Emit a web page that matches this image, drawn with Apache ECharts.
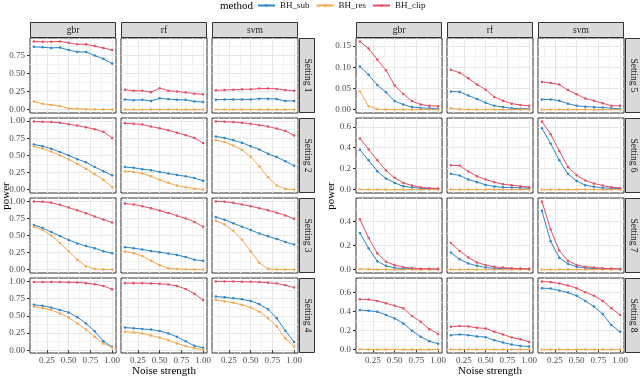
<!DOCTYPE html>
<html>
<head>
<meta charset="utf-8">
<script src="https://cdn.jsdelivr.net/npm/echarts@6/dist/echarts.min.js"></script>
<style>
html, body { margin: 0; padding: 0; background: #fff; }
#chart { width: 640px; height: 379px; }
</style>
</head>
<body>
<div id="chart"></div>
<script>
const noise = [0.1, 0.2, 0.3, 0.4, 0.5, 0.6, 0.7, 0.8, 0.9, 1.0];
const models = ['gbr', 'rf', 'svm'];
const methods = ['BH_sub', 'BH_res', 'BH_clip'];
const settings = ['Setting 1', 'Setting 2', 'Setting 3', 'Setting 4', 'Setting 5', 'Setting 6', 'Setting 7', 'Setting 8'];
const methodColors = ['#2a86cc', '#f6a64b', '#ea4c62'];

// each array: [gbr, rf, svm]
const set1Sub = [
  [0.865, 0.86, 0.85, 0.855, 0.82, 0.795, 0.795, 0.745, 0.70, 0.635],
  [0.14, 0.13, 0.135, 0.12, 0.155, 0.145, 0.135, 0.135, 0.11, 0.105],
  [0.135, 0.14, 0.14, 0.14, 0.14, 0.15, 0.15, 0.145, 0.12, 0.12]
];
const set1Res = [
  [0.11, 0.08, 0.065, 0.05, 0.015, 0.012, 0.005, 0.003, 0.002, 0.002],
  [0, 0, 0, 0, 0, 0, 0, 0, 0, 0],
  [0, 0, 0, 0, 0, 0, 0, 0, 0, 0]
];
const set1Clip = [
  [0.94, 0.935, 0.935, 0.94, 0.92, 0.90, 0.90, 0.875, 0.85, 0.82],
  [0.275, 0.26, 0.26, 0.24, 0.295, 0.26, 0.25, 0.235, 0.22, 0.21],
  [0.265, 0.27, 0.275, 0.28, 0.28, 0.29, 0.29, 0.285, 0.27, 0.26]
];
const set2Sub = [
  [0.66, 0.635, 0.595, 0.55, 0.50, 0.445, 0.40, 0.33, 0.27, 0.21],
  [0.33, 0.32, 0.30, 0.285, 0.26, 0.235, 0.215, 0.195, 0.17, 0.13],
  [0.775, 0.755, 0.72, 0.685, 0.635, 0.585, 0.525, 0.475, 0.415, 0.35]
];
const set2Res = [
  [0.635, 0.60, 0.555, 0.50, 0.44, 0.375, 0.305, 0.225, 0.145, 0.04],
  [0.27, 0.26, 0.235, 0.195, 0.145, 0.10, 0.06, 0.035, 0.015, 0.003],
  [0.72, 0.695, 0.645, 0.58, 0.48, 0.34, 0.18, 0.06, 0.012, 0.002]
];
const set2Clip = [
  [0.995, 0.99, 0.985, 0.975, 0.955, 0.935, 0.91, 0.88, 0.845, 0.755],
  [0.97, 0.96, 0.95, 0.92, 0.895, 0.865, 0.83, 0.795, 0.755, 0.68],
  [0.995, 0.99, 0.985, 0.975, 0.96, 0.94, 0.92, 0.89, 0.855, 0.79]
];
const set3Sub = [
  [0.655, 0.61, 0.55, 0.495, 0.435, 0.385, 0.345, 0.315, 0.27, 0.24],
  [0.33, 0.315, 0.295, 0.275, 0.255, 0.235, 0.215, 0.185, 0.145, 0.13],
  [0.77, 0.73, 0.68, 0.63, 0.58, 0.53, 0.49, 0.45, 0.405, 0.37]
];
const set3Res = [
  [0.63, 0.58, 0.50, 0.39, 0.27, 0.145, 0.05, 0.01, 0.002, 0.001],
  [0.265, 0.24, 0.20, 0.13, 0.065, 0.02, 0.01, 0.005, 0.002, 0.001],
  [0.715, 0.66, 0.57, 0.44, 0.27, 0.10, 0.012, 0.003, 0.001, 0.001]
];
const set3Clip = [
  [1.0, 0.995, 0.98, 0.95, 0.91, 0.87, 0.825, 0.78, 0.735, 0.69],
  [0.97, 0.955, 0.93, 0.90, 0.865, 0.83, 0.79, 0.75, 0.70, 0.63],
  [1.0, 0.995, 0.98, 0.955, 0.93, 0.90, 0.87, 0.835, 0.795, 0.745]
];
const set4Sub = [
  [0.66, 0.645, 0.62, 0.585, 0.55, 0.48, 0.39, 0.275, 0.13, 0.05],
  [0.33, 0.32, 0.31, 0.30, 0.28, 0.245, 0.195, 0.13, 0.065, 0.035],
  [0.78, 0.77, 0.755, 0.74, 0.715, 0.67, 0.595, 0.465, 0.285, 0.12]
];
const set4Res = [
  [0.635, 0.61, 0.585, 0.535, 0.475, 0.39, 0.30, 0.195, 0.10, 0.04],
  [0.27, 0.26, 0.245, 0.215, 0.185, 0.145, 0.10, 0.06, 0.03, 0.01],
  [0.73, 0.71, 0.69, 0.66, 0.62, 0.56, 0.465, 0.35, 0.17, 0.05]
];
const set4Clip = [
  [0.99, 0.99, 0.99, 0.99, 0.988, 0.985, 0.975, 0.96, 0.935, 0.885],
  [0.975, 0.975, 0.975, 0.97, 0.965, 0.955, 0.935, 0.89, 0.82, 0.73],
  [1.0, 1.0, 1.0, 0.995, 0.995, 0.99, 0.98, 0.97, 0.945, 0.91]
];
const set5Sub = [
  [0.102, 0.082, 0.058, 0.041, 0.02, 0.012, 0.006, 0.004, 0.003, 0.002],
  [0.043, 0.042, 0.033, 0.025, 0.016, 0.009, 0.006, 0.003, 0.002, 0.002],
  [0.024, 0.024, 0.021, 0.014, 0.009, 0.007, 0.006, 0.005, 0.003, 0.002]
];
const set5Res = [
  [0.043, 0.008, 0.001, 0, 0, 0, 0, 0, 0, 0],
  [0.003, 0.001, 0, 0, 0, 0, 0, 0, 0, 0],
  [0, 0, 0, 0, 0, 0, 0, 0, 0, 0]
];
const set5Clip = [
  [0.161, 0.144, 0.118, 0.093, 0.057, 0.037, 0.02, 0.012, 0.009, 0.008],
  [0.094, 0.087, 0.074, 0.059, 0.047, 0.03, 0.021, 0.014, 0.011, 0.009],
  [0.065, 0.063, 0.059, 0.046, 0.036, 0.026, 0.021, 0.015, 0.009, 0.009]
];
const set6Sub = [
  [0.38, 0.28, 0.176, 0.106, 0.064, 0.032, 0.02, 0.013, 0.01, 0.006],
  [0.151, 0.135, 0.096, 0.071, 0.045, 0.029, 0.022, 0.019, 0.016, 0.013],
  [0.585, 0.44, 0.28, 0.148, 0.083, 0.042, 0.026, 0.016, 0.013, 0.01]
];
const set6Res = [
  [0, 0, 0, 0, 0, 0, 0, 0, 0, 0],
  [0, 0, 0, 0, 0, 0, 0, 0, 0, 0],
  [0, 0, 0, 0, 0, 0, 0, 0, 0, 0]
];
const set6Clip = [
  [0.488, 0.385, 0.279, 0.183, 0.112, 0.064, 0.039, 0.022, 0.013, 0.01],
  [0.232, 0.229, 0.173, 0.128, 0.096, 0.071, 0.051, 0.042, 0.032, 0.022],
  [0.651, 0.529, 0.369, 0.215, 0.138, 0.087, 0.058, 0.038, 0.022, 0.016]
];
const set7Sub = [
  [0.304, 0.177, 0.07, 0.031, 0.014, 0.008, 0.006, 0.003, 0.003, 0.003],
  [0.141, 0.085, 0.051, 0.031, 0.017, 0.011, 0.008, 0.006, 0.006, 0.003],
  [0.487, 0.234, 0.099, 0.048, 0.023, 0.014, 0.008, 0.006, 0.006, 0.003]
];
const set7Res = [
  [0.005, 0.003, 0, 0, 0, 0, 0, 0, 0, 0],
  [0, 0, 0, 0, 0, 0, 0, 0, 0, 0],
  [0, 0, 0, 0, 0, 0, 0, 0, 0, 0]
];
const set7Clip = [
  [0.417, 0.262, 0.135, 0.065, 0.037, 0.02, 0.011, 0.008, 0.006, 0.006],
  [0.22, 0.155, 0.101, 0.059, 0.037, 0.023, 0.017, 0.011, 0.008, 0.006],
  [0.565, 0.332, 0.158, 0.073, 0.039, 0.023, 0.017, 0.011, 0.008, 0.006]
];
const set8Sub = [
  [0.417, 0.409, 0.399, 0.364, 0.328, 0.275, 0.198, 0.134, 0.088, 0.062],
  [0.152, 0.159, 0.152, 0.138, 0.131, 0.099, 0.074, 0.053, 0.039, 0.032],
  [0.646, 0.642, 0.621, 0.6, 0.565, 0.512, 0.452, 0.374, 0.258, 0.187]
];
const set8Res = [
  [0.004, 0, 0, 0, 0, 0, 0, 0, 0, 0],
  [0, 0, 0, 0, 0, 0, 0, 0, 0, 0],
  [0, 0, 0, 0, 0, 0, 0, 0, 0, 0]
];
const set8Clip = [
  [0.529, 0.526, 0.512, 0.487, 0.462, 0.434, 0.353, 0.293, 0.215, 0.165],
  [0.24, 0.247, 0.244, 0.229, 0.222, 0.187, 0.159, 0.127, 0.109, 0.081],
  [0.717, 0.71, 0.695, 0.674, 0.646, 0.604, 0.565, 0.512, 0.434, 0.364]
];

const xTicks = [0.25, 0.5, 0.75, 1.0];
const yTicks = [
  [0, 0.25, 0.5, 0.75],
  [0, 0.25, 0.5, 0.75, 1],
  [0, 0.25, 0.5, 0.75, 1],
  [0, 0.25, 0.5, 0.75, 1],
  [0, 0.05, 0.1, 0.15],
  [0, 0.2, 0.4, 0.6],
  [0, 0.2, 0.4],
  [0, 0.2, 0.4, 0.6]
];
const yDecimals = [2, 2, 2, 2, 2, 1, 1, 1];

// setting -> [sub, res, clip]
const bySetting = [
  [set1Sub, set1Res, set1Clip], [set2Sub, set2Res, set2Clip],
  [set3Sub, set3Res, set3Clip], [set4Sub, set4Res, set4Clip],
  [set5Sub, set5Res, set5Clip], [set6Sub, set6Res, set6Clip],
  [set7Sub, set7Res, set7Clip], [set8Sub, set8Res, set8Clip]
];

const FONT = '"Liberation Serif", "DejaVu Serif", serif';
const blockLeft = [30, 356];
const colW = 86, colStep = 91;
const rowTop = [38, 118, 198, 278];
const rowH = 75;

// ggplot-like range: data range expanded by 5%
function expand(lo, hi) {
  const p = (hi - lo) * 0.05;
  return [lo - p, hi + p];
}
function minorOf(ticks, lo, hi) {
  const d = ticks[1] - ticks[0];
  const out = [];
  for (let v = ticks[0] - d / 2; v <= hi; v += d) {
    if (v >= lo) out.push(+v.toFixed(6));
  }
  return out;
}

const xRange = expand(Math.min(...noise), Math.max(...noise));
const xMinor = minorOf(xTicks, xRange[0], xRange[1]);

const grids = [], xAxes = [], yAxes = [], series = [], graphics = [];

for (let s = 0; s < 8; s++) {
  const b = s < 4 ? 0 : 1;
  const r = s % 4;
  const all = [].concat(...bySetting[s].map(m => [].concat(...m)));
  const yRange = expand(Math.min(...all), Math.max(...all));
  const yMinor = minorOf(yTicks[s], yRange[0], yRange[1]);
  const dec = yDecimals[s];

  for (let c = 0; c < 3; c++) {
    const gi = grids.length;
    grids.push({
      left: blockLeft[b] + c * colStep, top: rowTop[r], width: colW, height: rowH,
      show: true, borderColor: '#333', borderWidth: 1, backgroundColor: '#fff',
      containLabel: false, outerBoundsMode: 'none'
    });
    const bottom = r === 3;
    xAxes.push({
      gridIndex: gi, type: 'value', min: xRange[0], max: xRange[1],
      axisLine: { show: false },
      axisTick: { show: true, customValues: xTicks, length: bottom ? 3 : 0, lineStyle: { color: '#333' } },
      axisLabel: {
        show: bottom, customValues: xTicks, margin: 3,
        formatter: v => v.toFixed(2), fontFamily: FONT, fontSize: 9, color: '#4d4d4d'
      },
      splitLine: { show: true, lineStyle: { color: '#e6e6e6', width: 1 } },
      z: 1
    });
    xAxes.push({
      gridIndex: gi, type: 'value', min: xRange[0], max: xRange[1], position: 'bottom',
      axisLine: { show: false },
      axisTick: { show: true, customValues: xMinor, length: 0 },
      axisLabel: { show: false },
      splitLine: { show: true, lineStyle: { color: '#f2f2f2', width: 1 } },
      z: 0
    });
    const left = c === 0;
    yAxes.push({
      gridIndex: gi, type: 'value', min: yRange[0], max: yRange[1],
      axisLine: { show: false },
      axisTick: { show: true, customValues: yTicks[s], length: left ? 3 : 0, lineStyle: { color: '#333' } },
      axisLabel: {
        show: left, customValues: yTicks[s], margin: 5,
        formatter: v => v.toFixed(dec), fontFamily: FONT, fontSize: 9, color: '#4d4d4d'
      },
      splitLine: { show: true, lineStyle: { color: '#e6e6e6', width: 1 } },
      z: 1
    });
    yAxes.push({
      gridIndex: gi, type: 'value', min: yRange[0], max: yRange[1], position: 'left',
      axisLine: { show: false },
      axisTick: { show: true, customValues: yMinor, length: 0 },
      axisLabel: { show: false },
      splitLine: { show: true, lineStyle: { color: '#f2f2f2', width: 1 } },
      z: 0
    });

    for (let m = 0; m < 3; m++) {
      const vals = bySetting[s][m][c];
      series.push({
        name: methods[m], type: 'line',
        xAxisIndex: 2 * gi, yAxisIndex: 2 * gi,
        data: noise.map((x, i) => [x, vals[i]]),
        symbol: 'circle', symbolSize: 2.5, showSymbol: true,
        lineStyle: { width: 1, color: methodColors[m] },
        itemStyle: { color: methodColors[m], borderWidth: 0 },
        silent: true, animation: false, z: 3
      });
    }

    // top strip
    if (r === 0) {
      const sx = blockLeft[b] + c * colStep;
      graphics.push({
        type: 'rect', silent: true,
        shape: { x: sx + 0.5, y: 22.5, width: colW - 1, height: 15 },
        style: { fill: '#d9d9d9', stroke: '#333', lineWidth: 1 }
      });
      graphics.push({
        type: 'text', silent: true, x: sx + colW / 2, y: 30,
        style: { text: models[c], font: '9.5px ' + FONT, fill: '#1a1a1a', align: 'center', verticalAlign: 'middle', textAlign: 'center', textVerticalAlign: 'middle' }
      });
    }
  }

  // right strip
  const rx = blockLeft[b] + 2 * colStep + colW + 1;
  graphics.push({
    type: 'rect', silent: true,
    shape: { x: rx + 0.5, y: rowTop[r] + 0.5, width: 15, height: rowH - 1 },
    style: { fill: '#d9d9d9', stroke: '#333', lineWidth: 1 }
  });
  graphics.push({
    type: 'text', silent: true, x: rx + 8, y: rowTop[r] + rowH / 2, rotation: -Math.PI / 2,
    style: { text: settings[s], font: '9.5px ' + FONT, fill: '#1a1a1a', align: 'center', verticalAlign: 'middle', textAlign: 'center', textVerticalAlign: 'middle' }
  });
}

// axis titles
[0, 1].forEach(b => {
  const bx = blockLeft[b];
  graphics.push({
    type: 'text', silent: true, x: b === 0 ? 6 : 331, y: 196, rotation: Math.PI / 2,
    style: { text: 'power', font: '11px ' + FONT, fill: '#000', align: 'center', verticalAlign: 'middle', textAlign: 'center', textVerticalAlign: 'middle' }
  });
  graphics.push({
    type: 'text', silent: true, x: bx + (2 * colStep + colW) / 2, y: 371,
    style: { text: 'Noise strength', font: '11px ' + FONT, fill: '#000', align: 'center', verticalAlign: 'middle', textAlign: 'center', textVerticalAlign: 'middle' }
  });
});
graphics.push({
  type: 'text', silent: true, x: 220, y: 6,
  style: { text: 'method', font: '11px ' + FONT, fill: '#000', align: 'left', verticalAlign: 'middle', textAlign: 'left', textVerticalAlign: 'middle' }
});

const option = {
  animation: false,
  backgroundColor: '#fff',
  legend: {
    data: methods, left: 257, top: 1, padding: 0,
    itemWidth: 17, itemHeight: 3, itemGap: 6,
    textStyle: { fontFamily: FONT, fontSize: 9, color: '#1a1a1a', padding: [0, 0, 0, 0] },
    selectedMode: false
  },
  grid: grids,
  xAxis: xAxes,
  yAxis: yAxes,
  series: series,
  graphic: { elements: graphics }
};

const chart = echarts.init(document.getElementById('chart'), null, { renderer: 'canvas' });
chart.setOption(option);
</script>
</body>
</html>
